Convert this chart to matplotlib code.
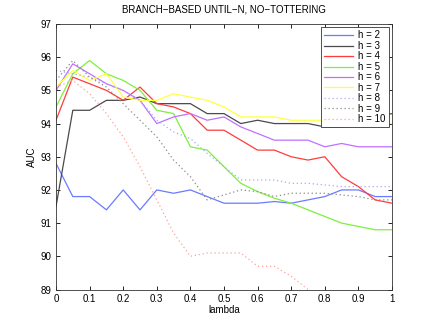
import matplotlib
matplotlib.use("Agg")
import matplotlib.pyplot as plt

plt.rcParams['font.family'] = ['Liberation Sans', 'DejaVu Sans']

lam = [0.0, 0.05, 0.1, 0.15, 0.2, 0.25, 0.3, 0.35, 0.4, 0.45, 0.5,
       0.55, 0.6, 0.65, 0.7, 0.75, 0.8, 0.85, 0.9, 0.95, 1.0]

h2 = [92.8, 91.8, 91.8, 91.4, 92.0, 91.4, 92.0, 91.9, 92.0, 91.8, 91.6,
      91.6, 91.6, 91.65, 91.6, 91.7, 91.8, 92.0, 92.0, 91.8, 91.8]
h3 = [91.5, 94.4, 94.4, 94.7, 94.7, 94.8, 94.6, 94.6, 94.6, 94.3, 94.3,
      94.0, 94.1, 94.0, 94.0, 94.0, 93.9, 93.9, 93.95, 94.2, 94.3]
h4 = [94.1, 95.4, 95.2, 95.0, 94.7, 95.1, 94.6, 94.5, 94.3, 93.8, 93.8,
      93.5, 93.2, 93.2, 93.0, 92.9, 93.0, 92.4, 92.1, 91.7, 91.6]
h5 = [94.5, 95.5, 95.9, 95.5, 95.3, 95.0, 94.4, 94.3, 93.3, 93.2, 92.7,
      92.2, 91.95, 91.75, 91.6, 91.4, 91.2, 91.0, 90.9, 90.8, 90.8]
h6 = [95.0, 95.8, 95.5, 95.2, 95.0, 94.7, 94.0, 94.2, 94.3, 94.1, 94.2,
      93.9, 93.7, 93.5, 93.5, 93.5, 93.3, 93.4, 93.3, 93.3, 93.3]
h7 = [95.1, 95.6, 95.3, 95.5, 94.8, 94.7, 94.7, 94.9, 94.8, 94.7, 94.5,
      94.2, 94.2, 94.2, 94.1, 94.1, 94.1, 94.1, 94.1, 94.05, 94.0]
h8 = [95.6, 95.5, 95.4, 95.2, 95.0, 94.7, 94.1, 93.75, 93.55, 93.1, 92.7,
      92.3, 92.3, 92.3, 92.2, 92.2, 92.15, 92.1, 92.1, 92.1, 92.1]
h9 = [95.3, 95.9, 95.4, 95.1, 94.6, 94.1, 93.6, 92.9, 92.4, 91.7, 91.85,
      92.0, 91.95, 91.8, 91.9, 91.9, 91.9, 91.85, 91.8, 91.7, 91.7]
h10 = [95.1, 95.3, 94.9, 94.3, 93.6, 92.7, 91.7, 90.7, 90.0, 90.1, 90.1,
       90.1, 89.7, 89.7, 89.4, 89.0, 88.8, 88.6, 88.5, 88.4, 88.3]

labels = ["h = 2", "h = 3", "h = 4", "h = 5", "h = 6", "h = 7", "h = 8", "h = 9", "h = 10"]
series = [h2, h3, h4, h5, h6, h7, h8, h9, h10]
colors = ["#6a7bff", "#4a4a4a", "#ff3c3c", "#7cf03c", "#c070ff", "#ffff40",
          "#a8a8ff", "#8a8a8a", "#ffa0a0"]
styles = ["-"] * 6 + [(0, (1, 2.2))] * 3

xticks = [0, 0.1, 0.2, 0.3, 0.4, 0.5, 0.6, 0.7, 0.8, 0.9, 1]
xticklabels = ["0", "0.1", "0.2", "0.3", "0.4", "0.5", "0.6", "0.7", "0.8", "0.9", "1"]
yticks = [89, 90, 91, 92, 93, 94, 95, 96, 97]

fig = plt.figure(figsize=(4.34, 3.26), dpi=100)
ax = fig.add_axes([56 / 434, 1 - 289.5 / 326, 336 / 434, (289.5 - 24) / 326])

for y, lab, c, ls in zip(series, labels, colors, styles):
    ax.plot(lam, y, color=c, linestyle=ls, linewidth=0.9, label=lab)

ax.set_xlim(0, 1)
ax.set_ylim(89, 97)
ax.set_xticks(xticks)
ax.set_xticklabels(xticklabels)
ax.set_yticks(yticks)
ax.tick_params(direction="in", top=True, right=True, labelsize=7, length=3,
               width=0.6, pad=3)
for s in ax.spines.values():
    s.set_linewidth(0.6)
    s.set_color("#333333")

ax.set_xlabel("lambda", fontsize=7, labelpad=1)
ax.set_ylabel("AUC", fontsize=7, labelpad=3)
ax.set_title("BRANCH\u2212BASED UNTIL\u2212N, NO\u2212TOTTERING", fontsize=7, pad=8)

leg = ax.legend(loc="upper right", fontsize=7, frameon=True, fancybox=False,
                edgecolor="#333333", framealpha=1, handlelength=3.0,
                handleheight=0.6, borderpad=0.3, labelspacing=0.05,
                handletextpad=0.5, borderaxespad=0.35)
leg.get_frame().set_linewidth(0.6)

fig.savefig("out.png", dpi=100)
